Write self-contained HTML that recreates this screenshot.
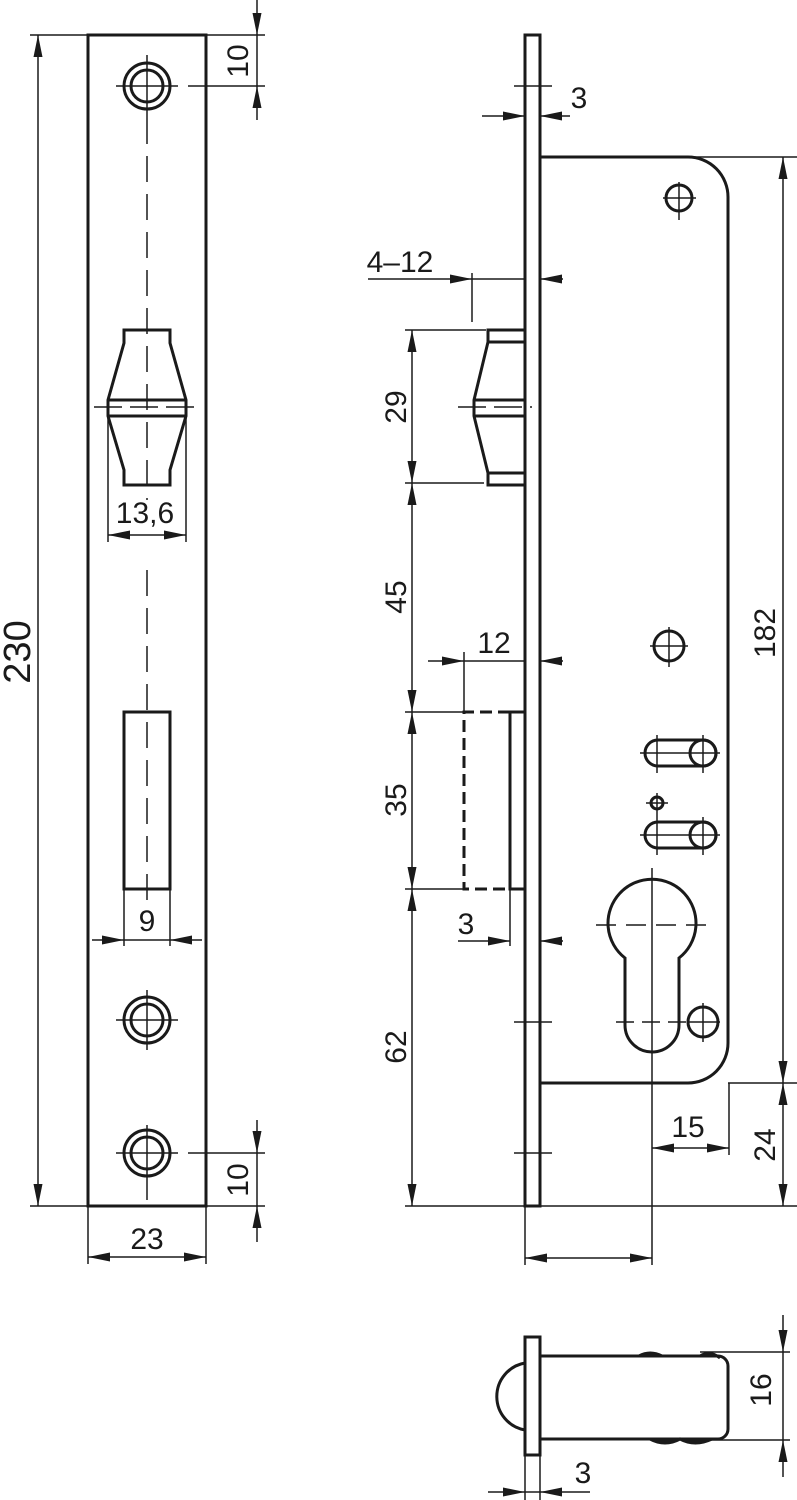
<!DOCTYPE html>
<html><head><meta charset="utf-8"><style>
html,body{margin:0;padding:0;background:#fff;}
svg{display:block;}
text{font-family:"Liberation Sans",sans-serif;font-size:30px;fill:#1a1a1a;}
</style></head><body>
<svg width="797" height="1500" viewBox="0 0 797 1500" xmlns="http://www.w3.org/2000/svg">
<defs>
<marker id="a" viewBox="0 0 22 9" refX="22" refY="4.5" markerUnits="userSpaceOnUse" markerWidth="22" markerHeight="9" orient="auto-start-reverse">
<path d="M0,0 L22,4.5 L0,9 z" fill="#1a1a1a"/></marker>
</defs>
<g stroke="#1a1a1a" fill="none">
<!-- LEFT PLATE -->
<g stroke-width="3">
<rect x="88" y="35" width="118" height="1171"/>
<circle cx="147" cy="86" r="23"/><circle cx="147" cy="86" r="16"/>
<circle cx="147" cy="1020" r="23"/><circle cx="147" cy="1020" r="16"/>
<circle cx="147" cy="1153" r="23"/><circle cx="147" cy="1153" r="16"/>
<path d="M124,330 H170 V343 L186,400 V416 L170,470 V485 H124 V470 L108,416 V400 L124,343 Z"/>
<line x1="108" y1="400" x2="186" y2="400"/><line x1="108" y1="416" x2="186" y2="416"/>
<rect x="124" y="712" width="46" height="177"/>
</g>
<g stroke-width="1.5">
<line x1="147" y1="55" x2="147" y2="118"/><line x1="116" y1="86" x2="178" y2="86"/>
<line x1="147" y1="990" x2="147" y2="1050"/><line x1="116" y1="1020" x2="178" y2="1020"/>
<line x1="147" y1="1125" x2="147" y2="1200"/><line x1="116" y1="1153" x2="178" y2="1153"/>
<line x1="147" y1="118" x2="147" y2="500" stroke-dasharray="26,12"/>
<line x1="147" y1="570" x2="147" y2="905" stroke-dasharray="26,12"/>
<line x1="94" y1="407" x2="198" y2="407" stroke-dasharray="28,8"/>
<!-- 230 -->
<line x1="30" y1="35" x2="88" y2="35"/><line x1="30" y1="1206" x2="88" y2="1206"/>
<line x1="38" y1="35" x2="38" y2="1206" marker-start="url(#a)" marker-end="url(#a)"/>
<!-- 10 top -->
<line x1="206" y1="35" x2="265" y2="35"/><line x1="188" y1="86" x2="265" y2="86"/>
<line x1="257" y1="0" x2="257" y2="35" marker-end="url(#a)"/>
<line x1="257" y1="120" x2="257" y2="86" marker-end="url(#a)"/>
<line x1="257" y1="35" x2="257" y2="86"/>
<!-- 10 bottom -->
<line x1="188" y1="1153" x2="265" y2="1153"/><line x1="206" y1="1206" x2="265" y2="1206"/>
<line x1="257" y1="1120" x2="257" y2="1153" marker-end="url(#a)"/>
<line x1="257" y1="1242" x2="257" y2="1206" marker-end="url(#a)"/>
<line x1="257" y1="1153" x2="257" y2="1206"/>
<!-- 23 -->
<line x1="88" y1="1206" x2="88" y2="1264"/><line x1="206" y1="1206" x2="206" y2="1264"/>
<line x1="88" y1="1257" x2="206" y2="1257" marker-start="url(#a)" marker-end="url(#a)"/>
<!-- 13,6 -->
<line x1="108" y1="416" x2="108" y2="542"/><line x1="186" y1="416" x2="186" y2="542"/>
<line x1="108" y1="535" x2="186" y2="535" marker-start="url(#a)" marker-end="url(#a)"/>
<!-- 9 -->
<line x1="124" y1="889" x2="124" y2="946"/><line x1="170" y1="889" x2="170" y2="946"/>
<line x1="92" y1="940" x2="124" y2="940" marker-end="url(#a)"/>
<line x1="202" y1="940" x2="170" y2="940" marker-end="url(#a)"/>
<line x1="124" y1="940" x2="170" y2="940"/>
</g>

<!-- RIGHT VIEW -->
<g stroke-width="3">
<rect x="525" y="35" width="15" height="1171"/>
<path d="M540,157 H688 A40,40 0 0 1 728,197 V1043 A40,40 0 0 1 688,1083 H540"/>
<circle cx="679" cy="198" r="13"/>
<circle cx="669" cy="646" r="15"/>
<path d="M658,740 H703 A13,13 0 0 1 703,766 H658 A13,13 0 0 1 658,740 Z"/>
<circle cx="703" cy="753" r="13"/>
<circle cx="657" cy="803" r="6"/>
<path d="M658,822 H703 A13,13 0 0 1 703,848 H658 A13,13 0 0 1 658,822 Z"/>
<circle cx="703" cy="835" r="13"/>
<path d="M625,1025 V958 A44,44 0 1 1 679,958 V1025 A27,27 0 0 1 625,1025 Z"/>
<circle cx="703" cy="1022" r="15"/>
<path d="M525,330 H488 V342 L474,400 V416 L488,473 V485 H525"/>
<line x1="488" y1="342" x2="525" y2="342"/><line x1="488" y1="473" x2="525" y2="473"/>
<line x1="474" y1="400" x2="525" y2="400"/><line x1="474" y1="416" x2="525" y2="416"/>
<path d="M525,712 H510 V889 H525"/>
<path d="M510,712 H464 V889 H510" stroke-dasharray="12,6"/>
</g>
<g stroke-width="1.5">
<line x1="514" y1="86" x2="552" y2="86"/>
<line x1="514" y1="1022" x2="552" y2="1022"/>
<line x1="514" y1="1153" x2="552" y2="1153"/>
<line x1="663" y1="198" x2="696" y2="198"/><line x1="679" y1="182" x2="679" y2="220"/>
<line x1="650" y1="646" x2="688" y2="646"/><line x1="669" y1="627" x2="669" y2="667"/>
<line x1="640" y1="753" x2="720" y2="753"/><line x1="657" y1="735" x2="657" y2="773"/><line x1="703" y1="735" x2="703" y2="773"/>
<line x1="646" y1="803" x2="668" y2="803"/><line x1="657" y1="793" x2="657" y2="855"/>
<line x1="640" y1="835" x2="720" y2="835"/><line x1="703" y1="817" x2="703" y2="855"/>
<line x1="596" y1="925" x2="710" y2="925" stroke-dasharray="20,10"/>
<line x1="652" y1="868" x2="652" y2="1265"/>
<line x1="616" y1="1022" x2="688" y2="1022" stroke-dasharray="18,8"/>
<line x1="688" y1="1022" x2="720" y2="1022"/><line x1="703" y1="1003" x2="703" y2="1042"/>
<line x1="458" y1="407" x2="532" y2="407" stroke-dasharray="28,8"/>
<!-- 3 top -->
<line x1="482" y1="116" x2="525" y2="116" marker-end="url(#a)"/>
<line x1="570" y1="116" x2="540" y2="116" marker-end="url(#a)"/>
<!-- 4-12 -->
<line x1="368" y1="279" x2="472" y2="279" marker-end="url(#a)"/>
<line x1="472" y1="279" x2="525" y2="279"/>
<line x1="563" y1="279" x2="540" y2="279" marker-end="url(#a)"/>
<line x1="472" y1="273" x2="472" y2="322"/>
<!-- verticals -->
<line x1="405" y1="330" x2="486" y2="330"/>
<line x1="405" y1="483" x2="484" y2="483"/>
<line x1="405" y1="712" x2="464" y2="712"/>
<line x1="405" y1="889" x2="464" y2="889"/>
<line x1="405" y1="1206" x2="797" y2="1206"/>
<line x1="412" y1="330" x2="412" y2="483" marker-start="url(#a)" marker-end="url(#a)"/>
<line x1="412" y1="483" x2="412" y2="712" marker-start="url(#a)" marker-end="url(#a)"/>
<line x1="412" y1="712" x2="412" y2="889" marker-start="url(#a)" marker-end="url(#a)"/>
<line x1="412" y1="889" x2="412" y2="1206" marker-start="url(#a)" marker-end="url(#a)"/>
<!-- 12 -->
<line x1="464" y1="652" x2="464" y2="712"/>
<line x1="428" y1="661" x2="464" y2="661" marker-end="url(#a)"/>
<line x1="464" y1="661" x2="525" y2="661"/>
<line x1="563" y1="661" x2="540" y2="661" marker-end="url(#a)"/>
<!-- 3 bottom -->
<line x1="510" y1="889" x2="510" y2="946"/>
<line x1="458" y1="941" x2="510" y2="941" marker-end="url(#a)"/>
<line x1="563" y1="941" x2="540" y2="941" marker-end="url(#a)"/>
<!-- 182 / 24 -->
<line x1="690" y1="157" x2="797" y2="157"/>
<line x1="728" y1="1083" x2="797" y2="1083"/>
<line x1="783" y1="157" x2="783" y2="1083" marker-start="url(#a)" marker-end="url(#a)"/>
<line x1="783" y1="1083" x2="783" y2="1206" marker-start="url(#a)" marker-end="url(#a)"/>
<!-- 15 -->
<line x1="729" y1="1083" x2="729" y2="1155"/>
<line x1="652" y1="1148" x2="729" y2="1148" marker-start="url(#a)" marker-end="url(#a)"/>
<!-- bottom unlabeled -->
<line x1="525" y1="1206" x2="525" y2="1265"/>
<line x1="525" y1="1258" x2="652" y2="1258" marker-start="url(#a)" marker-end="url(#a)"/>
</g>

<!-- BOTTOM VIEW -->
<g stroke-width="3">
<rect x="525" y="1337" width="15" height="118"/>
<path d="M525,1363 A34,34 0 0 0 525,1430"/>
<path d="M540,1356 H718 A10,10 0 0 1 728,1366 V1429 A10,10 0 0 1 718,1439 H540"/>
<path d="M639,1356 Q650,1350 662,1356 M700,1356 Q710,1350 720,1358" />
<path d="M650,1439 Q665,1447 680,1439 Q695,1447 712,1439" fill="#1a1a1a"/>
</g>
<g stroke-width="1.5">
<line x1="700" y1="1352" x2="790" y2="1352"/>
<line x1="700" y1="1440" x2="790" y2="1440"/>
<line x1="783" y1="1315" x2="783" y2="1352" marker-end="url(#a)"/>
<line x1="783" y1="1477" x2="783" y2="1440" marker-end="url(#a)"/>
<line x1="783" y1="1352" x2="783" y2="1440"/>
<line x1="525" y1="1455" x2="525" y2="1500"/><line x1="540" y1="1455" x2="540" y2="1500"/>
<line x1="488" y1="1492" x2="525" y2="1492" marker-end="url(#a)"/>
<line x1="590" y1="1492" x2="540" y2="1492" marker-end="url(#a)"/>
<line x1="525" y1="1492" x2="540" y2="1492"/>
</g>
</g>

<!-- TEXT -->
<g>
<text transform="translate(30,652) rotate(-90)" text-anchor="middle" style="font-size:38px">230</text>
<text transform="translate(248,61) rotate(-90)" text-anchor="middle">10</text>
<text transform="translate(248,1180) rotate(-90)" text-anchor="middle">10</text>
<text x="147" y="1249" text-anchor="middle">23</text>
<text x="145" y="523" text-anchor="middle">13,6</text>
<text x="147" y="931" text-anchor="middle">9</text>
<text x="579" y="108" text-anchor="middle">3</text>
<text x="400" y="272" text-anchor="middle">4–12</text>
<text transform="translate(406,407) rotate(-90)" text-anchor="middle">29</text>
<text transform="translate(406,597) rotate(-90)" text-anchor="middle">45</text>
<text transform="translate(406,800) rotate(-90)" text-anchor="middle">35</text>
<text transform="translate(406,1047) rotate(-90)" text-anchor="middle">62</text>
<text x="494" y="653" text-anchor="middle">12</text>
<text x="466" y="934" text-anchor="middle">3</text>
<text transform="translate(775,633) rotate(-90)" text-anchor="middle">182</text>
<text transform="translate(775,1145) rotate(-90)" text-anchor="middle">24</text>
<text x="688" y="1137" text-anchor="middle">15</text>
<text transform="translate(771,1390) rotate(-90)" text-anchor="middle">16</text>
<text x="583" y="1483" text-anchor="middle">3</text>
</g>
</svg>
</body></html>
